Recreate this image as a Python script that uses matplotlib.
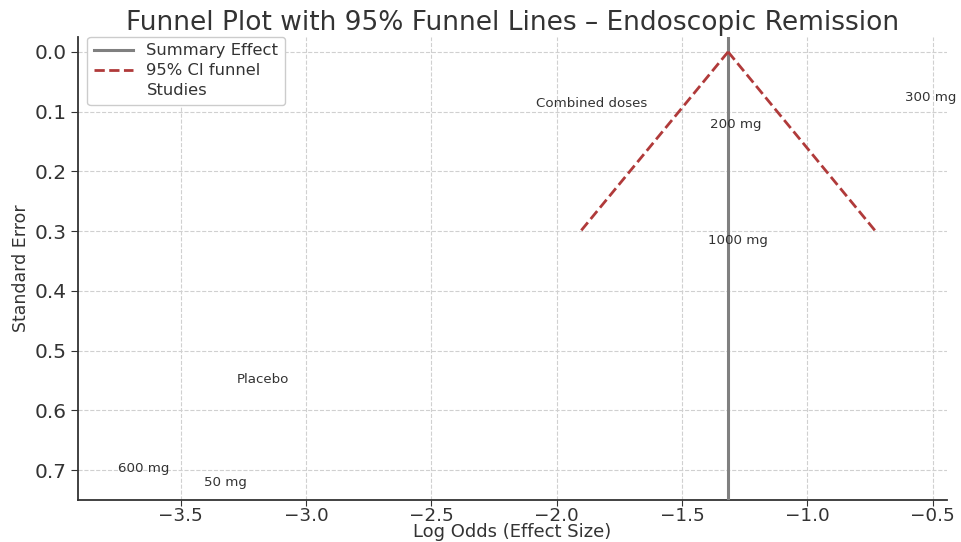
import matplotlib
matplotlib.use("Agg")
import matplotlib.pyplot as plt
import numpy as np

# pooled estimate and study-level estimates (log odds, standard error)
summary_effect = -1.316
se_max = 0.3
studies = ["Combined doses", "200 mg", "300 mg", "1000 mg", "Placebo", "600 mg", "50 mg"]
log_odds = [-2.084, -1.389, -0.608, -1.397, -3.275, -3.751, -3.408]
std_err = [0.092, 0.127, 0.082, 0.322, 0.554, 0.703, 0.727]

plt.rcParams["font.family"] = ["DejaVu Sans"]
text_col = "#333333"

fig = plt.figure(figsize=(9.61, 5.42), dpi=100)
ax = fig.add_axes([0.081, 0.0775, 0.904, 0.8545])

ax.axvline(summary_effect, color="#808080", lw=2.2, label="Summary Effect", zorder=3)
se_line = np.array([0.0, se_max])
ax.plot(summary_effect - 1.96 * se_line, se_line, color="#b03a3a", ls="--", lw=2,
        label="95% CI funnel", zorder=3)
ax.plot(summary_effect + 1.96 * se_line, se_line, color="#b03a3a", ls="--", lw=2, zorder=3)
ax.scatter(log_odds, std_err, s=0, label="Studies")
for name, x, y in zip(studies, log_odds, std_err):
    ax.text(x, y, name, fontsize=9.6, color=text_col)

ax.set_xlim(-3.911, -0.444)
ax.set_ylim(0.7502, -0.0251)
ax.set_xticks([-3.5, -3.0, -2.5, -2.0, -1.5, -1.0, -0.5])
ax.set_yticks([0.0, 0.1, 0.2, 0.3, 0.4, 0.5, 0.6, 0.7])
ax.tick_params(axis="x", labelsize=13.2, colors=text_col, length=4, pad=1)
ax.tick_params(axis="y", labelsize=14.5, colors=text_col, length=5, pad=3)
ax.grid(True, ls="--", color="#d0d0d0", lw=0.8)
for side in ["top", "right"]:
    ax.spines[side].set_visible(False)
for side in ["left", "bottom"]:
    ax.spines[side].set_color("#333333")
    ax.spines[side].set_linewidth(1.3)

ax.set_title("Funnel Plot with 95% Funnel Lines \u2013 Endoscopic Remission",
             fontsize=19, color=text_col, pad=5)
ax.set_xlabel("Log Odds (Effect Size)", fontsize=13, color=text_col)
ax.xaxis.set_label_coords(0.5, -0.05)
ax.set_ylabel("Standard Error", fontsize=12.5, color=text_col, labelpad=3)
ax.legend(loc="upper left", fontsize=11.8, labelcolor=text_col, framealpha=1,
          edgecolor="#cccccc", handlelength=2.4, labelspacing=0.3,
          borderaxespad=0, borderpad=0.4, bbox_to_anchor=(0.011, 1.0))

fig.savefig("out.png", dpi=100)
